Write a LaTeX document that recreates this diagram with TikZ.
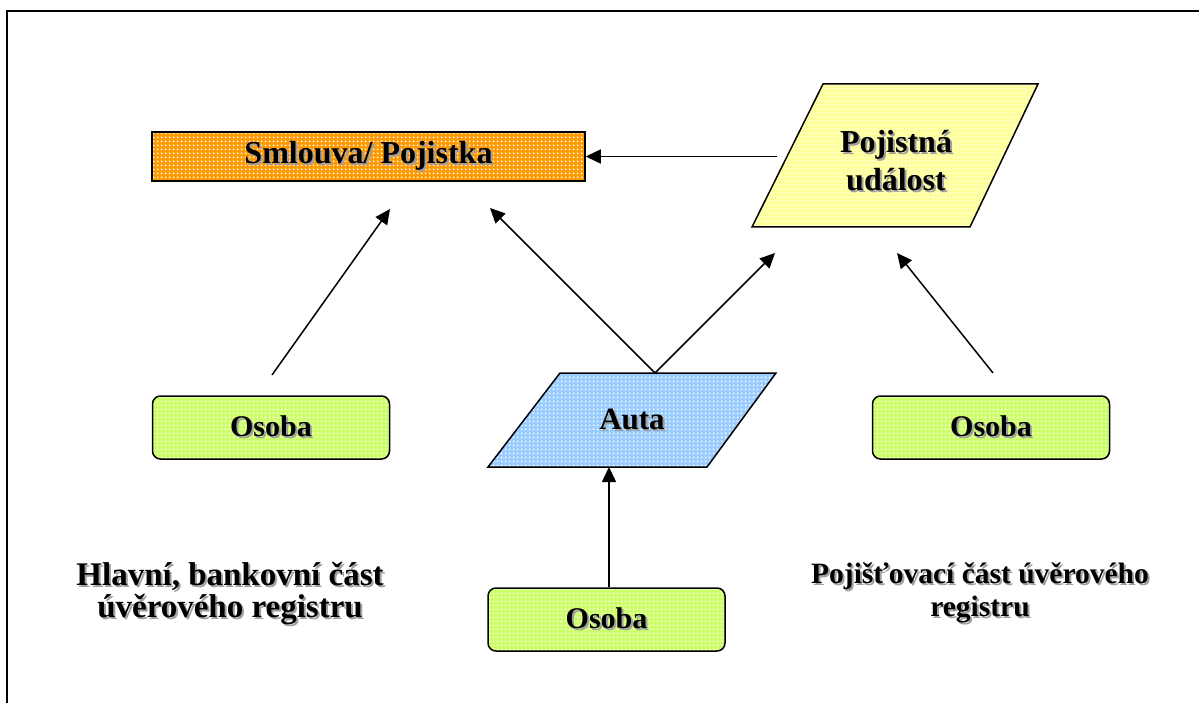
\documentclass[tikz,border=0pt]{standalone}
\usepackage{fontspec}
\setmainfont{Liberation Serif}
\usetikzlibrary{arrows.meta,patterns}

% light grid of white squares laid over the box fills
\pgfdeclarepatternformonly{whitegrid}{\pgfpointorigin}{\pgfpoint{4pt}{4pt}}{\pgfpoint{4pt}{4pt}}{%
  \pgfpathrectangle{\pgfpoint{1pt}{1pt}}{\pgfpoint{2pt}{2pt}}\pgfusepath{fill}}

\definecolor{cOrange}{HTML}{FF9900}
\definecolor{cYellow}{HTML}{FFFF99}
\definecolor{cBlue}{HTML}{99CCFF}
\definecolor{cGreen}{HTML}{CCFF66}
\definecolor{cShadow}{HTML}{A0A0A0}

% bold text with a soft grey drop shadow
\newcommand\shtext[1]{\makebox[0pt][l]{\raisebox{-2pt}{\hspace{2pt}\textcolor{cShadow}{#1}}}#1}

\begin{document}
\begin{tikzpicture}[x=1pt,y=-1pt,
  every node/.style={font=\fontsize{30}{37}\selectfont\bfseries, align=center, inner sep=0pt},
  fs/.style 2 args={font=\fontsize{#1}{#2}\selectfont\bfseries},
  dotted fill/.style={preaction={fill=#1}, pattern=whitegrid, pattern color=white},
  boxline/.style={draw=black, line width=1.5pt},
  person/.style={boxline, dotted fill=cGreen, rounded corners=8pt, minimum width=237pt, minimum height=63pt},
  link/.style={line width=1.5pt, -{Triangle[length=15pt,width=14pt]}}]

\useasboundingbox (0,0) rectangle (1199,703);
\fill[white] (0,0) rectangle (1199,703);

% page frame
\draw[line width=2pt] (7,703) -- (7,11) -- (1199,11);

% contract / policy
\node[boxline, dotted fill=cOrange, minimum width=433pt, minimum height=49pt] (smlouva) at (368.5,156.5) {};
\node[fs={32}{38}] (smlouvaT) at (smlouva.center) {\shtext{Smlouva/ Pojistka}};

% insured event (parallelogram)
\draw[boxline, dotted fill=cYellow] (823,84) -- (1038,84) -- (970,227) -- (752,227) -- cycle;
\node[fs={32}{38}] (udalost) at (896,162) {\shtext{Pojistná}\\\shtext{událost}};

% cars (parallelogram)
\draw[boxline, dotted fill=cBlue] (560,373) -- (776,373) -- (707,467) -- (488,467) -- cycle;
\node[fs={31}{37}] (auta) at (632,420) {\shtext{Auta}};

% persons
\node[person] (osobaL) at (271,427.5) {\shtext{Osoba}};
\node[person] (osobaB) at (606.5,619.5) {\shtext{Osoba}};
\node[person] (osobaR) at (991,427.5) {\shtext{Osoba}};

% register section captions
\node[fs={33}{32}] (hlavni) at (230,595) {\shtext{Hlavní, bankovní část}\\\shtext{úvěrového registru}};
\node[fs={29.5}{33}] (pojist) at (980,594) {\shtext{Pojišťovací část úvěrového}\\\shtext{registru}};

% connector end points
\coordinate (udalostW) at (777,156.5);
\coordinate (osobaLtop) at (272,375);
\coordinate (smlouvaA) at (390,209);
\coordinate (autaTop) at (655,373);
\coordinate (smlouvaB) at (490,208);
\coordinate (udalostA) at (775,253);
\coordinate (osobaRtop) at (993,373);
\coordinate (udalostB) at (897,253);
\coordinate (autaBottom) at (609,467);

% connectors
\draw[link] (udalostW) -- (smlouva.east);
\draw[link] (osobaLtop) -- (smlouvaA);
\draw[link] (autaTop) -- (smlouvaB);
\draw[link] (autaTop) -- (udalostA);
\draw[link] (osobaRtop) -- (udalostB);
\draw[link] (osobaB.north -| autaBottom) -- (autaBottom);
\end{tikzpicture}
\end{document}
